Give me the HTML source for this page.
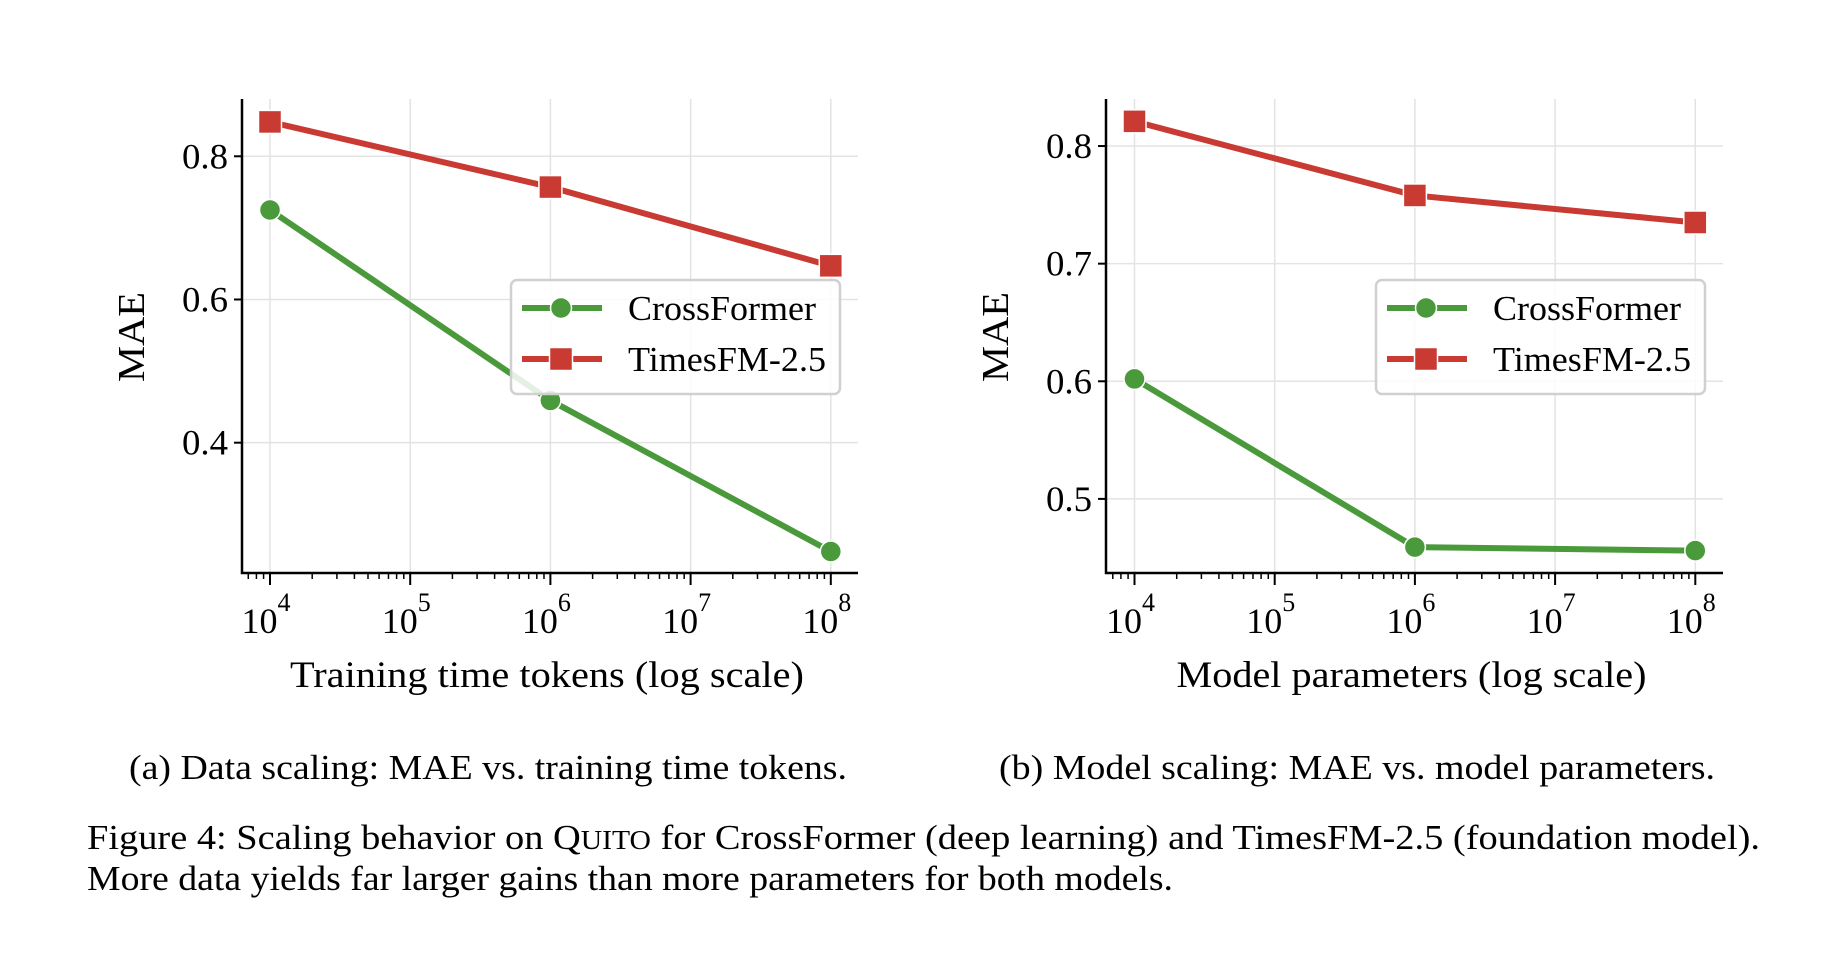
<!DOCTYPE html>
<html><head><meta charset="utf-8"><style>
html,body{margin:0;padding:0;background:#fff;}
svg{display:block;font-family:"Liberation Serif","DejaVu Serif",serif;}
</style></head><body>
<svg id="fig" width="1830" height="960" viewBox="0 0 1830 960"></svg>
<script>
const xExps = [4, 6, 8];
const leftCross = [0.725, 0.459, 0.248];
const leftTimes = [0.848, 0.757, 0.647];
const rightCross = [0.602, 0.459, 0.456];
const rightTimes = [0.821, 0.758, 0.735];
const xTickExps = [4, 5, 6, 7, 8];
const leftYTicks = [0.4, 0.6, 0.8];
const rightYTicks = [0.5, 0.6, 0.7, 0.8];

const NS = "http://www.w3.org/2000/svg";
const svg = document.getElementById('fig');
function mk(tag, attrs, parent, text){
  const e = document.createElementNS(NS, tag);
  for (const k in attrs) e.setAttribute(k, attrs[k]);
  if (text !== undefined) e.textContent = text;
  (parent || svg).appendChild(e);
  return e;
}
const GREEN = '#4a9a3c', RED = '#c83a32';

function panel(cfg){
  const g = mk('g', {});
  
  
  const L = cfg.left, R = cfg.right, T = 99, B = 573;
  const xs = e => cfg.x4 + (e - 4) * 140.2;
  const ys = v => B - (v - cfg.ymin) / (cfg.ymax - cfg.ymin) * (B - T);
  for (const e of xTickExps){
    const l = mk('line', {x1: xs(e), x2: xs(e), y1: T, y2: B, stroke: '#e3e3e3', 'stroke-width': 1.5}, g);
    
    
  }
  for (const v of cfg.yticks){
    const l = mk('line', {x1: L, x2: R, y1: ys(v), y2: ys(v), stroke: '#e3e3e3', 'stroke-width': 1.5}, g);
    
    
    const t = mk('line', {x1: L - 8, x2: L, y1: ys(v), y2: ys(v), stroke: '#000', 'stroke-width': 2}, g);
    
    
    const tx = mk('text', {x: L - 14, y: ys(v) + 12, 'font-size': 36, 'text-anchor': 'end', textLength: 46, lengthAdjust: 'spacingAndGlyphs'}, g, v.toFixed(1));
    
    
  }
  for (let d = 3; d <= 8; d++){
    for (let m = 2; m <= 9; m++){
      const e = d + Math.log10(m);
      const x = xs(e);
      if (x < L || x > R) continue;
      const t = mk('line', {x1: x, x2: x, y1: B, y2: B + 6, stroke: '#000', 'stroke-width': 1.5}, g);
      
      
    }
  }
  for (const e of xTickExps){
    const t = mk('line', {x1: xs(e), x2: xs(e), y1: B, y2: B + 12, stroke: '#000', 'stroke-width': 2}, g);
    
    
    const tx = mk('text', {x: xs(e) - 4, y: 633, 'font-size': 36, 'text-anchor': 'middle'}, g);
    
    
    mk('tspan', {}, tx, '10');
    mk('tspan', {dy: -22, 'font-size': 26}, tx, String(e));
  }
  const sp = mk('path', {d: `M${L},${T} V${B} H${R}`, fill: 'none', stroke: '#000', 'stroke-width': 2.5}, g);
  
  
  function series(vals, color, marker, nm){
    const pts = xExps.map((e, i) => [xs(e), ys(vals[i])]);
    const pl = mk('polyline', {points: pts.map(p => p.join(',')).join(' '), fill: 'none', stroke: color, 'stroke-width': 6, 'stroke-linejoin': 'round'}, g);
    
    
    for (const p of pts){
      let m;
      if (marker === 'o') m = mk('circle', {cx: p[0], cy: p[1], r: 10.5, fill: color, stroke: '#fff', 'stroke-width': 1.5}, g);
      else m = mk('rect', {x: p[0] - 11.5, y: p[1] - 11.5, width: 23, height: 23, fill: color, stroke: '#fff', 'stroke-width': 1.5}, g);
      
      
    }
  }
  series(cfg.times, RED, 's', 'timesfm');
  series(cfg.cross, GREEN, 'o', 'crossformer');
  const lg = mk('g', {}, g);
  
  
  const lx = cfg.legX;
  mk('rect', {x: lx, y: 280, width: 329, height: 114, rx: 6, fill: 'rgba(255,255,255,0.85)', stroke: '#d0d0d0', 'stroke-width': 2.5}, lg);
  const ent = [[GREEN, 'o', 'CrossFormer', 308, 188], [RED, 's', 'TimesFM-2.5', 359, 198]];
  for (const [c, mkr, lab, y, w] of ent){
    const eg = mk('g', {}, lg);
    
    
    mk('line', {x1: lx + 11, x2: lx + 91, y1: y, y2: y, stroke: c, 'stroke-width': 6}, eg);
    if (mkr === 'o') mk('circle', {cx: lx + 50, cy: y, r: 10.5, fill: c, stroke: '#fff', 'stroke-width': 1.5}, eg);
    else mk('rect', {x: lx + 38.5, y: y - 11.5, width: 23, height: 23, fill: c, stroke: '#fff', 'stroke-width': 1.5}, eg);
    mk('text', {x: lx + 117, y: y + 12, 'font-size': 35, textLength: w, lengthAdjust: 'spacingAndGlyphs'}, eg, lab);
  }
  const yt = mk('text', {x: 0, y: 0, 'font-size': 38, 'text-anchor': 'middle', textLength: 90, lengthAdjust: 'spacingAndGlyphs', transform: `translate(${L - 98},337) rotate(-90)`}, g, 'MAE');
  
  
  const xt = mk('text', {x: (L + R) / 2 - 3, y: 687, 'font-size': 37, 'text-anchor': 'middle', textLength: cfg.xtW, lengthAdjust: 'spacingAndGlyphs'}, g, cfg.xtitle);
  
  
  const cap = mk('text', {x: cfg.capX, y: 779, 'font-size': 35, textLength: cfg.capW, lengthAdjust: 'spacingAndGlyphs'}, g, cfg.caption);
  
  
}

panel({name: 'data-scaling-chart', left: 242, right: 858, x4: 270, ymin: 0.218, ymax: 0.88,
  yticks: leftYTicks, cross: leftCross, times: leftTimes, legX: 511,
  xtitle: 'Training time tokens (log scale)', xtW: 514,
  caption: '(a) Data scaling: MAE vs. training time tokens.', capX: 129, capW: 718});
panel({name: 'model-scaling-chart', left: 1106, right: 1723, x4: 1134.5, ymin: 0.437, ymax: 0.84,
  yticks: rightYTicks, cross: rightCross, times: rightTimes, legX: 1376,
  xtitle: 'Model parameters (log scale)', xtW: 470,
  caption: '(b) Model scaling: MAE vs. model parameters.', capX: 999, capW: 716});

const f1 = mk('text', {x: 87, y: 849, 'font-size': 35, textLength: 1673, lengthAdjust: 'spacingAndGlyphs'});


mk('tspan', {}, f1, 'Figure 4: Scaling behavior on Q');
mk('tspan', {'font-size': 27}, f1, 'UITO');
mk('tspan', {}, f1, ' for CrossFormer (deep learning) and TimesFM-2.5 (foundation model).');
const f2 = mk('text', {x: 87, y: 890, 'font-size': 35, textLength: 1086, lengthAdjust: 'spacingAndGlyphs'}, svg, 'More data yields far larger gains than more parameters for both models.');


</script>
</body></html>
